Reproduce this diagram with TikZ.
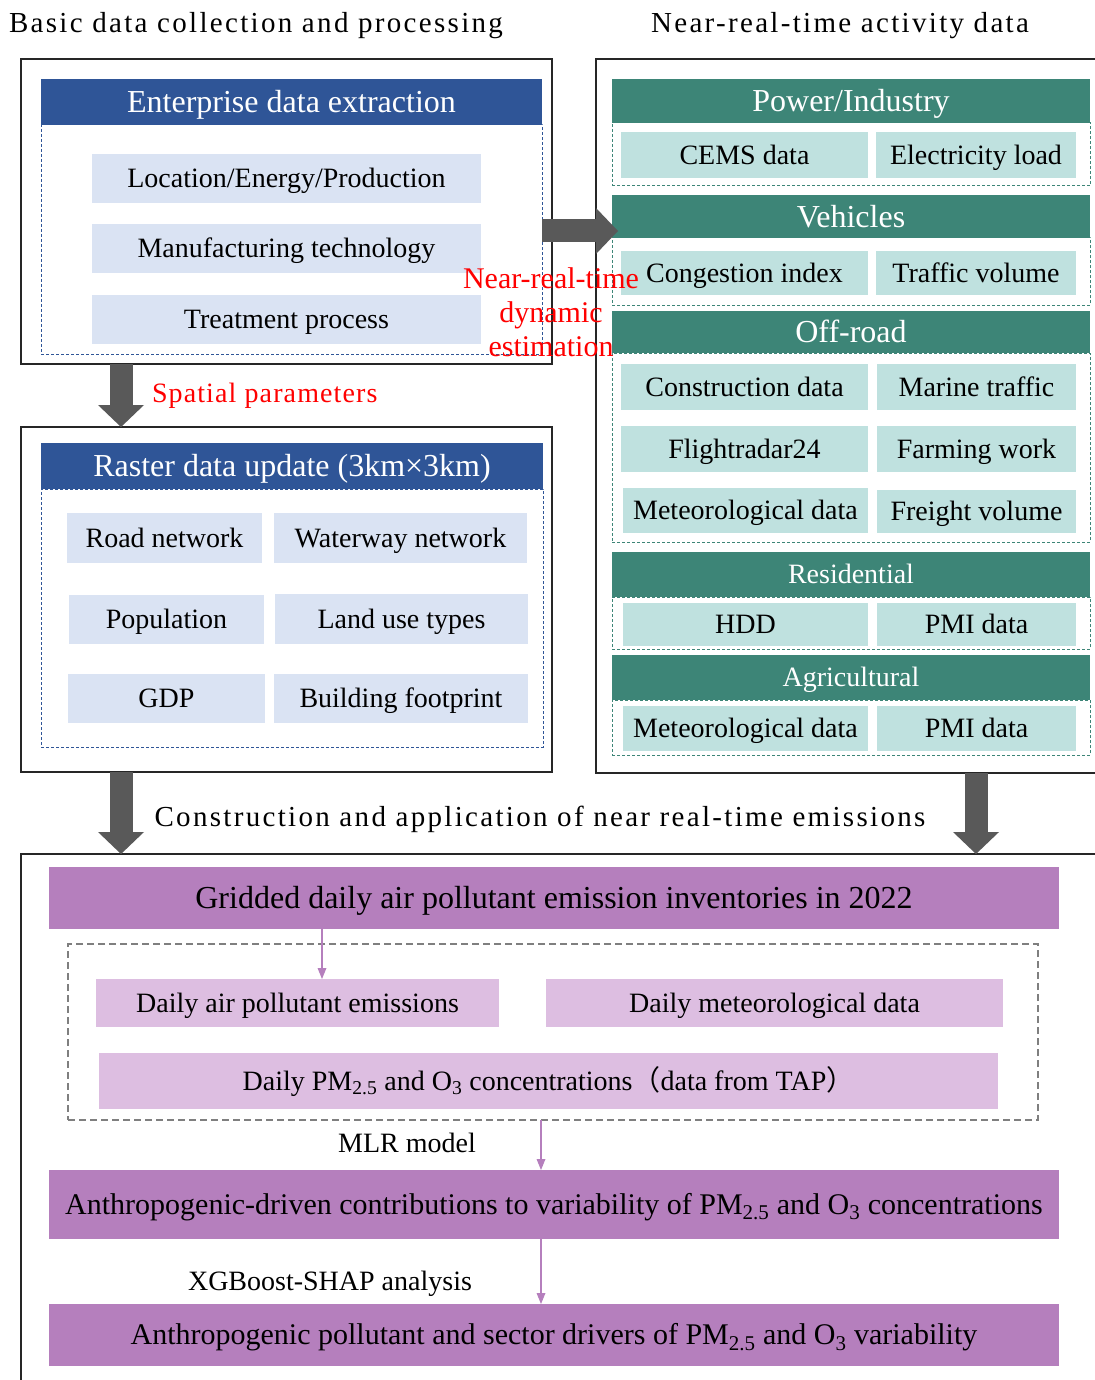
\documentclass[tikz,border=0pt]{standalone}
\usepackage{fontspec}
\setmainfont{Liberation Serif}
\newfontfamily\spaced[LetterSpace=8]{Liberation Serif}
\newfontfamily\spacedred[LetterSpace=4]{Liberation Serif}
\newfontfamily\cjk{Noto Sans CJK SC}
\usetikzlibrary{arrows.meta,calc}
\definecolor{hblue}{HTML}{2F5597}
\definecolor{lblue}{HTML}{DAE3F3}
\definecolor{hgreen}{HTML}{3D8577}
\definecolor{lteal}{HTML}{BFE1DF}
\definecolor{purp}{HTML}{B57FBD}
\definecolor{lpurp}{HTML}{DDBEE1}
\definecolor{agray}{HTML}{595959}
\definecolor{dgray}{HTML}{7F7F7F}
\definecolor{frame}{HTML}{262626}
\newcommand{\fsz}[1]{\fontsize{#1}{#1}\selectfont}
\newcommand{\bx}[7]{\node[#6,minimum width={(#4-#2)*1pt},minimum height={(#5-#3)*1pt}] (#1) at ({(#2+#4)/2},{(#3+#5)/2}) {#7};}
\tikzset{
  every node/.style={inner sep=0pt,outer sep=0pt},
  outerbox/.style={draw=frame,line width=1.5pt},
  bluedash/.style={draw=hblue,line width=1pt,dash pattern=on 3pt off 2pt},
  headtext/.style={font=\fsz{32},text height=21.2pt,text depth=0pt},
  smallhead/.style={font=\fsz{28},text height=18.5pt,text depth=0pt},
  bodytext/.style={font=\fsz{28},text height=18.5pt,text depth=0pt},
  bluehead/.style={fill=hblue,text=white,headtext},
  lbox/.style={fill=lblue,text=black,bodytext},
  greendash/.style={draw=hgreen,line width=1pt,dash pattern=on 3pt off 2pt},
  greenhead/.style={fill=hgreen,text=white,headtext},
  tbox/.style={fill=lteal,text=black,bodytext},
  purphead/.style={fill=purp,text=black,font=\fsz{30},text height=19.9pt,text depth=0pt},
  lpbox/.style={fill=lpurp,text=black,bodytext},
  graydash/.style={draw=dgray,line width=1.2pt,dash pattern=on 7pt off 4pt},
  titletext/.style={font=\spaced\fsz{29},anchor=base},
  redtext/.style={text=red,font=\fsz{28}},
  plaintext/.style={font=\fsz{28},anchor=base},
  bigarrow/.style={draw=agray,line width=23pt,-{Triangle[width=46pt,length=22pt,line width=0pt]}},
  parrow/.style={draw=purp,line width=1.6pt,-{Triangle[width=9pt,length=11pt,line width=0pt]}},
}
\begin{document}
\begin{tikzpicture}[x=1pt,y=-1pt]
\useasboundingbox (0,0) rectangle (1094,1380);
% titles
\node[titletext] (t1) at (256,33) {Basic data collection and processing};
\node[titletext] (t2) at (840,33) {Near-real-time activity data};
% left block 1
\bx{lframe1}{21}{59}{552}{364}{outerbox}{}
\bx{edash}{41}{125}{542}{354}{bluedash}{}
\bx{ehead}{41}{79}{542}{125}{bluehead}{Enterprise data extraction}
\bx{e1}{92}{154}{481}{203}{lbox}{Location/Energy/Production}
\bx{e2}{92}{224}{481}{273}{lbox}{Manufacturing technology}
\bx{e3}{92}{295}{481}{344}{lbox}{Treatment process}
% left block 2
\bx{lframe2}{21}{427}{552}{772}{outerbox}{}
\bx{rdash}{41}{489}{543}{747}{bluedash}{}
\bx{rhead}{41}{443}{543}{489}{bluehead}{Raster data update (3km×3km)}
\bx{r1}{67}{513}{262}{563}{lbox}{Road network}
\bx{r2}{274}{513}{527}{563}{lbox}{Waterway network}
\bx{r3}{69}{595}{264}{644}{lbox}{Population}
\bx{r4}{275}{594}{528}{644}{lbox}{Land use types}
\bx{r5}{68}{674}{265}{723}{lbox}{GDP}
\bx{r6}{274}{674}{528}{723}{lbox}{Building footprint}
% right block
\bx{rframe}{596}{59}{1110}{773}{outerbox}{}
\bx{pdash}{612}{123}{1090}{186}{greendash}{}
\bx{phead}{612}{79}{1090}{123}{greenhead}{Power/Industry}
\bx{p1}{621}{132}{868}{178}{tbox}{CEMS data}
\bx{p2}{876}{132}{1076}{178}{tbox}{Electricity load}
\bx{vdash}{612}{238}{1090}{305}{greendash}{}
\bx{vhead}{612}{195}{1090}{238}{greenhead}{Vehicles}
\bx{v1}{621}{251}{868}{295}{tbox}{Congestion index}
\bx{v2}{876}{251}{1076}{295}{tbox}{Traffic volume}
\bx{odash}{612}{353}{1090}{542}{greendash}{}
\bx{ohead}{612}{311}{1090}{353}{greenhead}{Off-road}
\bx{o1}{621}{364}{868}{410}{tbox}{Construction data}
\bx{o2}{877}{364}{1076}{410}{tbox}{Marine traffic}
\bx{o3}{621}{426}{868}{472}{tbox}{Flightradar24}
\bx{o4}{877}{426}{1076}{472}{tbox}{Farming work}
\bx{o5}{623}{488}{868}{533}{tbox}{Meteorological data}
\bx{o6}{877}{490}{1076}{533}{tbox}{Freight volume}
\bx{sdash}{612}{597}{1090}{649}{greendash}{}
\bx{shead}{612}{552}{1090}{597}{greenhead,smallhead}{Residential}
\bx{s1}{623}{603}{868}{646}{tbox}{HDD}
\bx{s2}{877}{603}{1076}{646}{tbox}{PMI data}
\bx{adash}{612}{700}{1090}{755}{greendash}{}
\bx{ahead}{612}{655}{1090}{700}{greenhead,smallhead}{Agricultural}
\bx{a1}{623}{706}{868}{751}{tbox}{Meteorological data}
\bx{a2}{877}{706}{1076}{751}{tbox}{PMI data}
% bottom block
\bx{bframe}{21}{854}{1110}{1400}{outerbox}{}
\bx{ghead}{49}{867}{1059}{929}{purphead,font=\fsz{32},text height=21.2pt}{Gridded daily air pollutant emission inventories in 2022}
\bx{gdash}{68}{944}{1038}{1120}{graydash}{}
\bx{d1}{96}{979}{499}{1027}{lpbox}{Daily air pollutant emissions}
\bx{d2}{546}{979}{1003}{1027}{lpbox}{Daily meteorological data}
\bx{d3}{99}{1053}{998}{1109}{lpbox}{Daily PM\textsubscript{2.5} and O\textsubscript{3} concentrations{\cjk（}data from TAP{\cjk）}}
\bx{c1}{49}{1170}{1059}{1239}{purphead}{Anthropogenic-driven contributions to variability of PM\textsubscript{2.5} and O\textsubscript{3} concentrations}
\bx{c2}{49}{1304}{1059}{1366}{purphead}{Anthropogenic pollutant and sector drivers of PM\textsubscript{2.5} and O\textsubscript{3} variability}
% labels
\node[redtext,align=center,font=\fontsize{30}{34}\selectfont,anchor=base] (nrt) at (551,356) {Near-real-time\\dynamic\\estimation};
\node[redtext,font=\spacedred\fsz{28},anchor=base west] (sp) at (152,402) {Spatial parameters};
\node[titletext] (t3) at (540,826) {Construction and application of near real-time emissions};
\node[plaintext] (mlr) at (407,1152) {MLR model};
\node[plaintext] (xgb) at (330,1290) {XGBoost-SHAP analysis};
% arrows
\coordinate (xl) at (121,0);
\coordinate (xr) at (976,0);
\coordinate (xm) at (541,0);
\coordinate (xp) at (322,0);
\coordinate (yh) at (0,231);
\draw[bigarrow] (xl |- lframe1.south) -- (xl |- lframe2.north);
\draw[bigarrow] (xl |- lframe2.south) -- (xl |- bframe.north);
\draw[bigarrow] (xr |- rframe.south) -- (xr |- bframe.north);
\draw[bigarrow] (edash.east |- yh) -- ($(vhead.west |- yh)+(6,0)$);
\draw[parrow] (xp |- ghead.south) -- (xp |- d1.north);
\draw[parrow] (xm |- gdash.south) -- (xm |- c1.north);
\draw[parrow] (xm |- c1.south) -- (xm |- c2.north);
\end{tikzpicture}
\end{document}
